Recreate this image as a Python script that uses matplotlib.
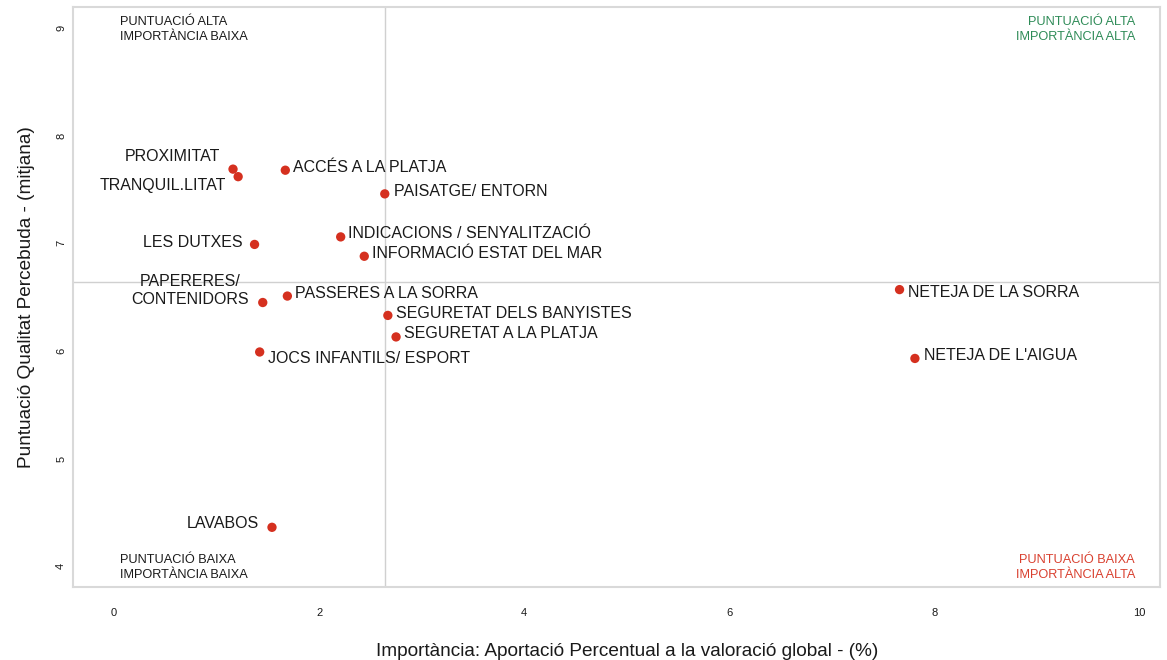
import numpy as np
import matplotlib
matplotlib.use('Agg')
import matplotlib.pyplot as plt

plt.rcParams['font.family'] = ['Liberation Sans', 'DejaVu Sans']

# Data
labels = [
    "PROXIMITAT", "TRANQUIL.LITAT", "ACCÉS A LA PLATJA", "PAISATGE/ ENTORN",
    "INDICACIONS / SENYALITZACIÓ", "LES DUTXES", "INFORMACIÓ ESTAT DEL MAR",
    "PAPERERES/\nCONTENIDORS", "PASSERES A LA SORRA", "SEGURETAT DELS BANYISTES",
    "SEGURETAT A LA PLATJA", "JOCS INFANTILS/ ESPORT", "LAVABOS",
    "NETEJA DE LA SORRA", "NETEJA DE L'AIGUA",
]
importancia = [1.16, 1.21, 1.67, 2.64, 2.21, 1.37, 2.44, 1.45, 1.69, 2.67,
               2.75, 1.42, 1.54, 7.66, 7.81]
puntuacio = [7.69, 7.62, 7.68, 7.46, 7.06, 6.99, 6.88, 6.45, 6.51, 6.33,
             6.13, 5.99, 4.36, 6.57, 5.93]

# label placement (pixel offsets from the point, like ggrepel would give)
label_offsets = [
    (-13, 13), (-12, -9), (8, 3), (9, 2), (7, 3), (-12, 2), (8, 3),
    (-14, 12), (8, 3), (8, 2), (8, 3), (8, -7), (-13, 4), (8, -3), (9, 3),
]

point_color = "#d5301f"
frame_color = "#d9d9d9"

fig = plt.figure(figsize=(11.67, 6.6), dpi=100)
ax = fig.add_axes([0.0626, 0.1106, 0.9314, 0.8784])

# quadrant lines at the means
ax.axvline(np.mean(importancia), color="#d0d0d0", lw=1, zorder=1)
ax.axhline(np.mean(puntuacio), color="#d0d0d0", lw=1, zorder=1)

ax.scatter(importancia, puntuacio, s=45, color=point_color, zorder=3,
           edgecolors="none")

for x, y, lab, (dx, dy) in zip(importancia, puntuacio, labels, label_offsets):
    ax.annotate(lab, (x, y), xytext=(dx * 0.72, dy * 0.72),
                textcoords="offset points",
                ha="left" if dx > 0 else "right", va="center",
                multialignment="center", fontsize=11.5, color="#1a1a1a",
                linespacing=1.2, zorder=4)

# quadrant captions
corner_kw = dict(transform=ax.transAxes, fontsize=9.2, linespacing=1.35)
ax.text(0.043, 0.985, "PUNTUACIÓ ALTA\nIMPORTÀNCIA BAIXA", ha="left",
        va="top", color="#1a1a1a", **corner_kw)
ax.text(0.977, 0.985, "PUNTUACIÓ ALTA\nIMPORTÀNCIA ALTA", ha="right",
        va="top", multialignment="right", color="#2e8b57", **corner_kw)
ax.text(0.043, 0.01, "PUNTUACIÓ BAIXA\nIMPORTÀNCIA BAIXA", ha="left",
        va="bottom", color="#1a1a1a", **corner_kw)
ax.text(0.977, 0.01, "PUNTUACIÓ BAIXA\nIMPORTÀNCIA ALTA", ha="right",
        va="bottom", multialignment="right", color="#d9402f", **corner_kw)

ax.set_xlim(-0.4, 10.2)
ax.set_ylim(3.805, 9.195)
ax.set_xticks([0, 2, 4, 6, 8, 10])
ax.set_yticks([4, 5, 6, 7, 8, 9])
ax.tick_params(axis="x", length=0, pad=15, labelsize=8, labelcolor="#1a1a1a")
ax.tick_params(axis="y", length=0, pad=5, labelsize=8, labelcolor="#1a1a1a",
               labelrotation=90)
for lbl in ax.get_yticklabels():
    lbl.set_va("center")

for sp in ax.spines.values():
    sp.set_color(frame_color)
    sp.set_linewidth(1.5)

ax.set_xlabel("Importància: Aportació Percentual a la valoració global - (%)",
              fontsize=13.65, labelpad=18, color="#1a1a1a")
ax.xaxis.label.set_x(0.51)
ax.set_ylabel("Puntuació Qualitat Percebuda - (mitjana)", fontsize=13.7,
              labelpad=15, color="#1a1a1a")

fig.savefig("out.png", dpi=100, facecolor="white")
